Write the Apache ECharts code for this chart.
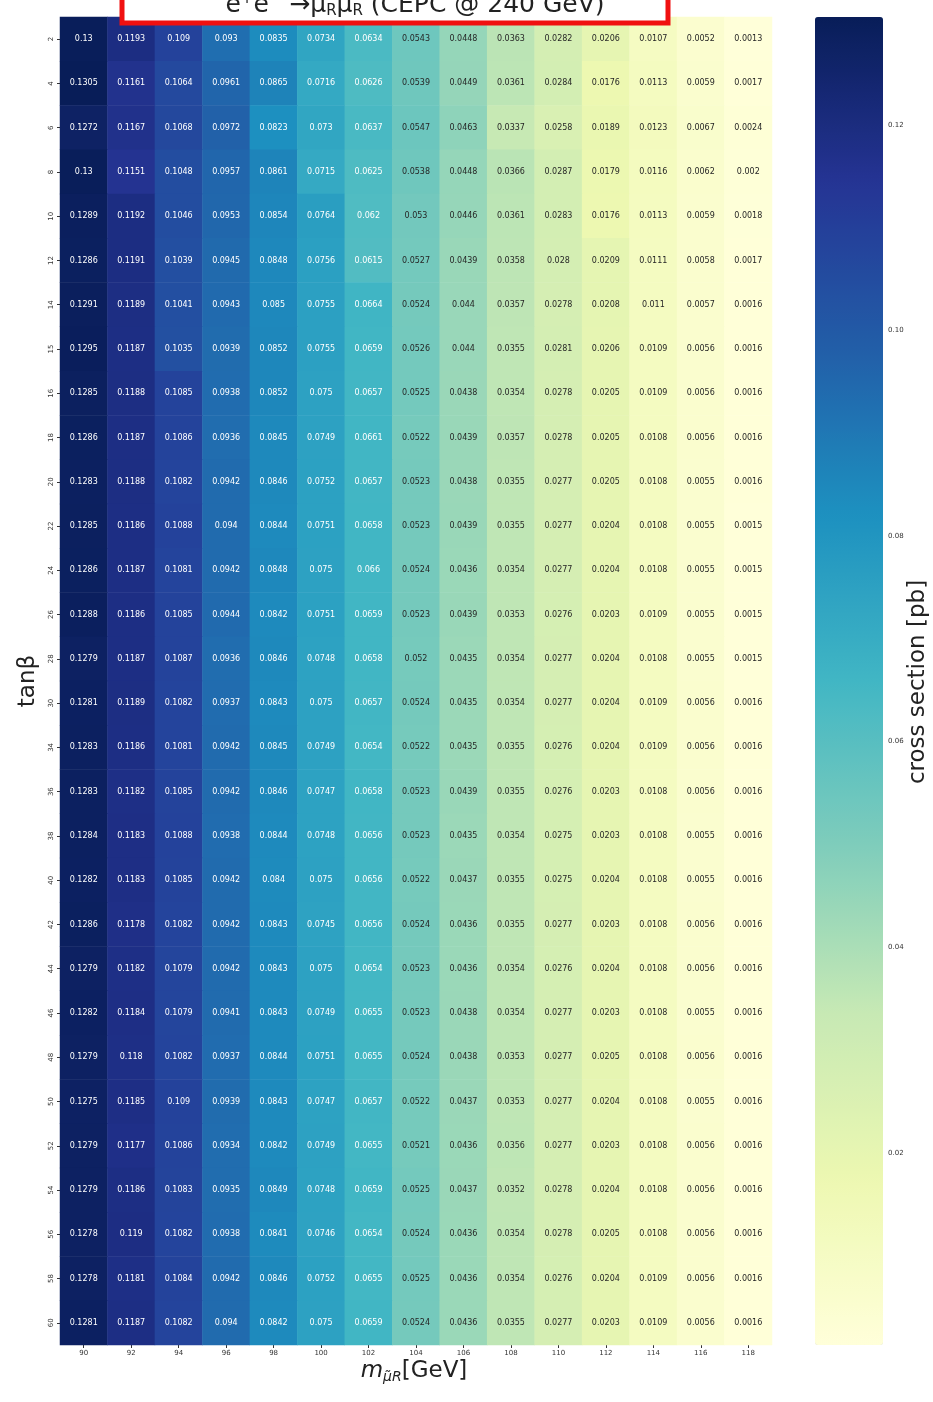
<!DOCTYPE html>
<html>
<head>
<meta charset="utf-8">
<script src="https://cdn.jsdelivr.net/npm/echarts@6/dist/echarts.min.js"></script>
<style>
html,body{margin:0;padding:0;background:#fff;}
#chart{width:933px;height:1402px;}
</style>
</head>
<body>
<div id="chart"></div>
<script>
// ---- data ----
const massLabels = ['90','92','94','96','98','100','102','104','106','108','110','112','114','116','118'];
const tanbLabels = ['2','4','6','8','10','12','14','15','16','18','20','22','24','26','28','30','34','36','38','40','42','44','46','48','50','52','54','56','58','60'];
const row2  = [0.13,0.1193,0.109,0.093,0.0835,0.0734,0.0634,0.0543,0.0448,0.0363,0.0282,0.0206,0.0107,0.0052,0.0013];
const row4  = [0.1305,0.1161,0.1064,0.0961,0.0865,0.0716,0.0626,0.0539,0.0449,0.0361,0.0284,0.0176,0.0113,0.0059,0.0017];
const row6  = [0.1272,0.1167,0.1068,0.0972,0.0823,0.073,0.0637,0.0547,0.0463,0.0337,0.0258,0.0189,0.0123,0.0067,0.0024];
const row8  = [0.13,0.1151,0.1048,0.0957,0.0861,0.0715,0.0625,0.0538,0.0448,0.0366,0.0287,0.0179,0.0116,0.0062,0.002];
const row10 = [0.1289,0.1192,0.1046,0.0953,0.0854,0.0764,0.062,0.053,0.0446,0.0361,0.0283,0.0176,0.0113,0.0059,0.0018];
const row12 = [0.1286,0.1191,0.1039,0.0945,0.0848,0.0756,0.0615,0.0527,0.0439,0.0358,0.028,0.0209,0.0111,0.0058,0.0017];
const row14 = [0.1291,0.1189,0.1041,0.0943,0.085,0.0755,0.0664,0.0524,0.044,0.0357,0.0278,0.0208,0.011,0.0057,0.0016];
const row15 = [0.1295,0.1187,0.1035,0.0939,0.0852,0.0755,0.0659,0.0526,0.044,0.0355,0.0281,0.0206,0.0109,0.0056,0.0016];
const row16 = [0.1285,0.1188,0.1085,0.0938,0.0852,0.075,0.0657,0.0525,0.0438,0.0354,0.0278,0.0205,0.0109,0.0056,0.0016];
const row18 = [0.1286,0.1187,0.1086,0.0936,0.0845,0.0749,0.0661,0.0522,0.0439,0.0357,0.0278,0.0205,0.0108,0.0056,0.0016];
const row20 = [0.1283,0.1188,0.1082,0.0942,0.0846,0.0752,0.0657,0.0523,0.0438,0.0355,0.0277,0.0205,0.0108,0.0055,0.0016];
const row22 = [0.1285,0.1186,0.1088,0.094,0.0844,0.0751,0.0658,0.0523,0.0439,0.0355,0.0277,0.0204,0.0108,0.0055,0.0015];
const row24 = [0.1286,0.1187,0.1081,0.0942,0.0848,0.075,0.066,0.0524,0.0436,0.0354,0.0277,0.0204,0.0108,0.0055,0.0015];
const row26 = [0.1288,0.1186,0.1085,0.0944,0.0842,0.0751,0.0659,0.0523,0.0439,0.0353,0.0276,0.0203,0.0109,0.0055,0.0015];
const row28 = [0.1279,0.1187,0.1087,0.0936,0.0846,0.0748,0.0658,0.052,0.0435,0.0354,0.0277,0.0204,0.0108,0.0055,0.0015];
const row30 = [0.1281,0.1189,0.1082,0.0937,0.0843,0.075,0.0657,0.0524,0.0435,0.0354,0.0277,0.0204,0.0109,0.0056,0.0016];
const row34 = [0.1283,0.1186,0.1081,0.0942,0.0845,0.0749,0.0654,0.0522,0.0435,0.0355,0.0276,0.0204,0.0109,0.0056,0.0016];
const row36 = [0.1283,0.1182,0.1085,0.0942,0.0846,0.0747,0.0658,0.0523,0.0439,0.0355,0.0276,0.0203,0.0108,0.0056,0.0016];
const row38 = [0.1284,0.1183,0.1088,0.0938,0.0844,0.0748,0.0656,0.0523,0.0435,0.0354,0.0275,0.0203,0.0108,0.0055,0.0016];
const row40 = [0.1282,0.1183,0.1085,0.0942,0.084,0.075,0.0656,0.0522,0.0437,0.0355,0.0275,0.0204,0.0108,0.0055,0.0016];
const row42 = [0.1286,0.1178,0.1082,0.0942,0.0843,0.0745,0.0656,0.0524,0.0436,0.0355,0.0277,0.0203,0.0108,0.0056,0.0016];
const row44 = [0.1279,0.1182,0.1079,0.0942,0.0843,0.075,0.0654,0.0523,0.0436,0.0354,0.0276,0.0204,0.0108,0.0056,0.0016];
const row46 = [0.1282,0.1184,0.1079,0.0941,0.0843,0.0749,0.0655,0.0523,0.0438,0.0354,0.0277,0.0203,0.0108,0.0055,0.0016];
const row48 = [0.1279,0.118,0.1082,0.0937,0.0844,0.0751,0.0655,0.0524,0.0438,0.0353,0.0277,0.0205,0.0108,0.0056,0.0016];
const row50 = [0.1275,0.1185,0.109,0.0939,0.0843,0.0747,0.0657,0.0522,0.0437,0.0353,0.0277,0.0204,0.0108,0.0055,0.0016];
const row52 = [0.1279,0.1177,0.1086,0.0934,0.0842,0.0749,0.0655,0.0521,0.0436,0.0356,0.0277,0.0203,0.0108,0.0056,0.0016];
const row54 = [0.1279,0.1186,0.1083,0.0935,0.0849,0.0748,0.0659,0.0525,0.0437,0.0352,0.0278,0.0204,0.0108,0.0056,0.0016];
const row56 = [0.1278,0.119,0.1082,0.0938,0.0841,0.0746,0.0654,0.0524,0.0436,0.0354,0.0278,0.0205,0.0108,0.0056,0.0016];
const row58 = [0.1278,0.1181,0.1084,0.0942,0.0846,0.0752,0.0655,0.0525,0.0436,0.0354,0.0276,0.0204,0.0109,0.0056,0.0016];
const row60 = [0.1281,0.1187,0.1082,0.094,0.0842,0.075,0.0659,0.0524,0.0436,0.0355,0.0277,0.0203,0.0109,0.0056,0.0016];
const colorbarTicks = [0.02,0.04,0.06,0.08,0.10,0.12];
const valueMin = 0.0013, valueMax = 0.1305;

const rows = [row2,row4,row6,row8,row10,row12,row14,row15,row16,row18,row20,row22,row24,row26,row28,row30,row34,row36,row38,row40,row42,row44,row46,row48,row50,row52,row54,row56,row58,row60];

const YlGnBu = ['#ffffd9','#edf8b1','#c7e9b4','#7fcdbb','#41b6c4','#1d91c0','#225ea8','#253494','#081d58'];

const heatData = [];
rows.forEach((r, yi) => {
  r.forEach((v, xi) => {
    heatData.push({
      value: [xi, yi, v],
      label: { color: v > 0.058 ? '#ffffff' : '#262626' }
    });
  });
});

const FONT = 'DejaVu Sans';
const chart = echarts.init(document.getElementById('chart'), null, {renderer: 'canvas'});
const option = {
  backgroundColor: '#ffffff',
  animation: false,
  grid: [
    {left: 60, right: 161, top: 17, bottom: 57},
    {left: 815, width: 68, top: 17, height: 1328}
  ],
  xAxis: [
    {
      type: 'category', data: massLabels, gridIndex: 0,
      axisLine: {show: false},
      axisTick: {show: true, alignWithLabel: true, length: 3, lineStyle: {color: '#333'}},
      axisLabel: {fontSize: 7, color: '#333', margin: 5, fontFamily: FONT},
      splitLine: {show: false}
    },
    {type: 'value', gridIndex: 1, show: false, min: 0, max: 1}
  ],
  yAxis: [
    {
      type: 'category', data: tanbLabels, inverse: true, gridIndex: 0,
      axisLine: {show: false},
      axisTick: {show: true, alignWithLabel: true, length: 3, lineStyle: {color: '#333'}},
      axisLabel: {fontSize: 7, color: '#333', rotate: 90, margin: 5, fontFamily: FONT},
      splitLine: {show: false}
    },
    {
      type: 'value', gridIndex: 1, position: 'right', min: valueMin, max: valueMax,
      axisLine: {show: false},
      axisTick: {show: true, length: 3, lineStyle: {color: '#333'}, customValues: colorbarTicks},
      axisLabel: {fontSize: 7, color: '#333', margin: 5, fontFamily: FONT,
        customValues: colorbarTicks, formatter: v => v.toFixed(2)},
      splitLine: {show: false}
    }
  ],
  visualMap: {
    type: 'continuous', seriesIndex: 0, min: valueMin, max: valueMax,
    left: 815, top: 17, itemWidth: 68, itemHeight: 1328, padding: 0,
    calculable: false, text: null, showLabel: false, hoverLink: false,
    inRange: {color: YlGnBu}
  },
  series: [
    {
      type: 'heatmap', xAxisIndex: 0, yAxisIndex: 0, data: heatData,
      itemStyle: {borderWidth: 0},
      label: {show: true, fontSize: 8, fontFamily: FONT,
        formatter: p => String(p.value[2])},
      emphasis: {disabled: true}
    },
    {type: 'scatter', xAxisIndex: 1, yAxisIndex: 1, data: []}
  ],
  graphic: [
    {
      type: 'rect', z: 100,
      shape: {x: 122, y: -20, width: 546, height: 43},
      style: {fill: '#ffffff', stroke: '#f01010', lineWidth: 5}
    },
    {
      type: 'text', z: 101, x: 415, y: 5,
      style: {
        align: 'center', verticalAlign: 'middle',
        text: 'e{sup|+}e{sup|−} →μ̃{sub|R}μ̃{sub|R} (CEPC @ 240 GeV)',
        font: '25px "DejaVu Sans"', fill: '#222',
        rich: {
          sup: {fontSize: 15, verticalAlign: 'top', padding: [0,0,12,0], fill: '#222', fontFamily: FONT},
          sub: {fontSize: 15, verticalAlign: 'bottom', padding: [12,0,0,0], fill: '#222', fontFamily: FONT}
        }
      }
    },
    {
      type: 'text', z: 101, x: 28, y: 681, rotation: Math.PI / 2,
      style: {
        text: 'tanβ', align: 'center', verticalAlign: 'middle',
        font: '23px "DejaVu Sans"', fill: '#222'
      }
    },
    {
      type: 'text', z: 101, x: 414, y: 1371,
      style: {
        text: '{i|m}{sub|μ̃R}[GeV]', align: 'center', verticalAlign: 'middle',
        font: '23px "DejaVu Sans"', fill: '#222',
        rich: {
          i: {fontSize: 23, fontStyle: 'italic', fontFamily: FONT, fill: '#222'},
          sub: {fontSize: 14, fontStyle: 'italic', verticalAlign: 'bottom', padding: [13,0,0,0], fontFamily: FONT, fill: '#222'}
        }
      }
    },
    {
      type: 'text', z: 101, x: 918, y: 682, rotation: Math.PI / 2,
      style: {
        text: 'cross section [pb]', align: 'center', verticalAlign: 'middle',
        font: '23px "DejaVu Sans"', fill: '#222'
      }
    }
  ]
};
chart.setOption(option);
</script>
</body>
</html>
